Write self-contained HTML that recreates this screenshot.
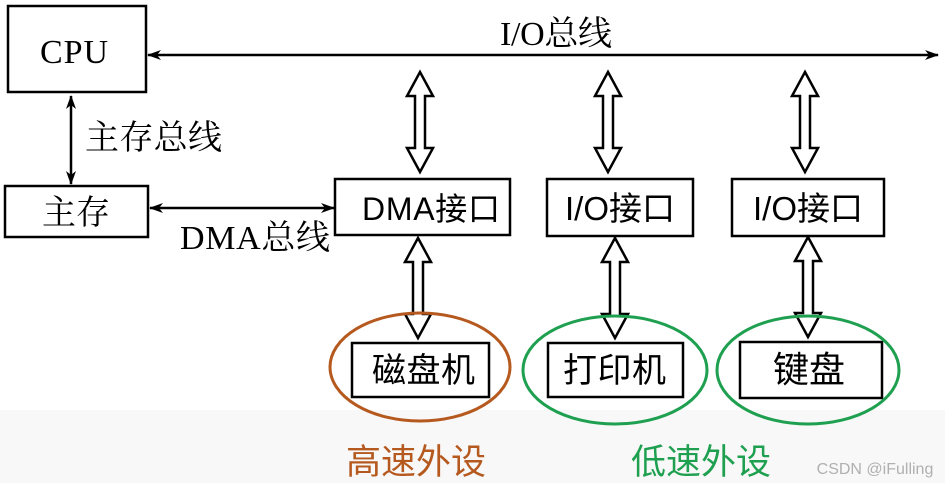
<!DOCTYPE html><html><head><meta charset="utf-8"><style>
body{margin:0;width:945px;height:483px;background:#fff;overflow:hidden}
</style></head><body>
<svg width="945" height="483" xmlns="http://www.w3.org/2000/svg">
<defs>
<marker id="a" markerWidth="14" markerHeight="10" refX="13" refY="5" orient="auto-start-reverse" markerUnits="userSpaceOnUse"><path d="M0,0 L14,5 L0,10 L4,5 Z" fill="#000"/></marker>
<g id="h"><path d="M0,0 L13,24 L5,24 L5,76 L13,76 L0,100 L-13,76 L-5,76 L-5,24 L-13,24 Z" fill="#fff" stroke="#000" stroke-width="2.5" stroke-linejoin="miter"/></g>
</defs>
<rect x="0" y="410" width="945" height="73" fill="#f8f8f8"/>
<g fill="none" stroke="#000" stroke-width="2.5">
<rect x="8" y="6" width="138" height="86"/>
<rect x="5" y="186" width="143" height="51"/>
<rect x="335" y="179" width="175" height="56"/>
<rect x="547" y="179" width="146" height="57"/>
<rect x="732" y="179" width="152" height="57"/>
<rect x="352" y="343" width="137" height="54"/>
<rect x="548" y="343" width="135" height="54"/>
<rect x="740" y="342" width="142" height="56"/>
<line x1="148" y1="55" x2="938" y2="55" marker-start="url(#a)" marker-end="url(#a)"/>
<line x1="71" y1="96" x2="71" y2="184" marker-start="url(#a)" marker-end="url(#a)"/>
<line x1="150" y1="208" x2="334" y2="208" marker-start="url(#a)" marker-end="url(#a)"/>
</g>
<use href="#h" transform="translate(420,72)"/>
<use href="#h" transform="translate(608,72)"/>
<use href="#h" transform="translate(805,72)"/>
<use href="#h" transform="translate(418,238)"/>
<use href="#h" transform="translate(615,238)"/>
<use href="#h" transform="translate(808,237)"/>
<ellipse cx="420" cy="367" rx="90" ry="54" fill="none" stroke="#b5591f" stroke-width="3"/>
<ellipse cx="615" cy="370" rx="92" ry="54" fill="none" stroke="#1fa050" stroke-width="3"/>
<ellipse cx="808" cy="370" rx="91" ry="54" fill="none" stroke="#1fa050" stroke-width="3"/>
<g font-family="'Liberation Serif','Noto Serif CJK SC',serif" font-size="34" fill="#000">
<text x="40" y="63" textLength="68">CPU</text>
<text x="500" y="45" textLength="112">I/O总线</text>
<text x="85" y="149" textLength="137">主存总线</text>
<text x="42" y="224" textLength="68">主存</text>
<text x="180" y="249" textLength="150">DMA总线</text>
</g>
<g font-family="'Liberation Sans','Noto Sans CJK SC',sans-serif" font-size="32" fill="#000">
<text x="362" y="220" textLength="138">DMA接口</text>
<text x="620" y="220" font-size="33" text-anchor="middle">I/O接口</text>
<text x="808" y="220" font-size="33" text-anchor="middle">I/O接口</text>
<text x="372" y="382" font-size="34" textLength="103">磁盘机</text>
<text x="563" y="382" font-size="34" textLength="103">打印机</text>
<text x="773" y="382" font-size="36" textLength="72">键盘</text>
<text x="346" y="474" font-size="35" fill="#b5591f" textLength="140">高速外设</text>
<text x="631" y="474" font-size="35" fill="#1fa050" textLength="140">低速外设</text>
<text x="875" y="474" font-size="16" fill="#b0b0b0" text-anchor="middle">CSDN @iFulling</text>
</g>
</svg>
</body></html>
